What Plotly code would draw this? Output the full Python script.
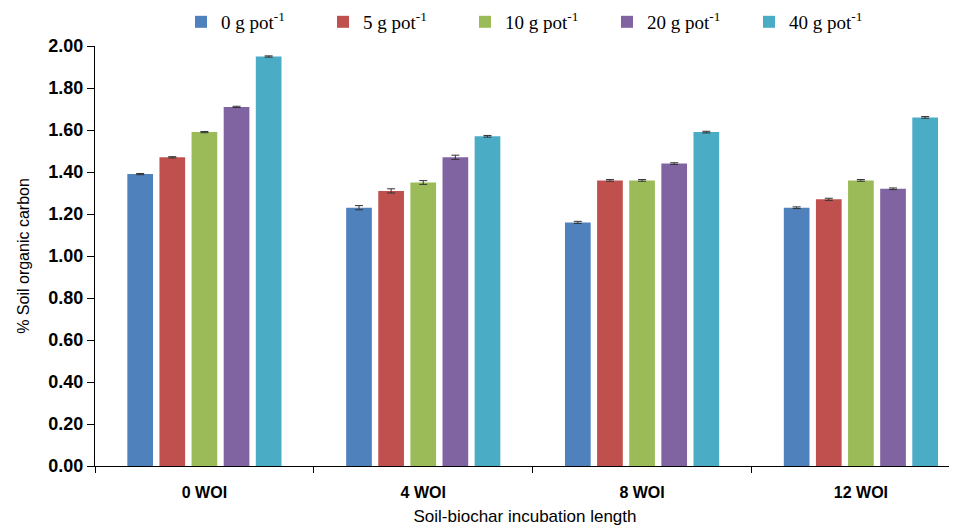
import plotly.graph_objects as go

categories = ["0 WOI", "4 WOI", "8 WOI", "12 WOI"]
series_names = ["0 g pot<sup>-1</sup>", "5 g pot<sup>-1</sup>", "10 g pot<sup>-1</sup>",
                "20 g pot<sup>-1</sup>", "40 g pot<sup>-1</sup>"]
soc_0g = [1.39, 1.23, 1.16, 1.23]
soc_5g = [1.47, 1.31, 1.36, 1.27]
soc_10g = [1.59, 1.35, 1.36, 1.36]
soc_20g = [1.71, 1.47, 1.44, 1.32]
soc_40g = [1.95, 1.57, 1.59, 1.66]
err_0g = [0.003, 0.010, 0.005, 0.004]
err_5g = [0.003, 0.010, 0.004, 0.005]
err_10g = [0.003, 0.009, 0.004, 0.004]
err_20g = [0.003, 0.010, 0.004, 0.004]
err_40g = [0.003, 0.004, 0.004, 0.004]
y_ticks = [0.0, 0.2, 0.4, 0.6, 0.8, 1.0, 1.2, 1.4, 1.6, 1.8, 2.0]

colors = ["#4F81BD", "#C0504D", "#9BBB59", "#8064A2", "#4BACC6"]
values = [soc_0g, soc_5g, soc_10g, soc_20g, soc_40g]
errors = [err_0g, err_5g, err_10g, err_20g, err_40g]

fig = go.Figure()
for name, v, e, c in zip(series_names, values, errors, colors):
    fig.add_trace(go.Bar(
        x=categories, y=v, name=name, marker=dict(color=c, line=dict(width=0)),
        error_y=dict(type="data", array=e, visible=True, color="#333333", thickness=1, width=4),
    ))

fig.update_layout(
    width=957, height=528,
    barmode="group", bargap=0.266, bargroupgap=0.2,
    paper_bgcolor="white", plot_bgcolor="white",
    margin=dict(l=87, r=10, t=38, b=70, autoexpand=False),
    showlegend=True,
    legend=dict(orientation="h", x=0.1, xanchor="left", y=1.012, yanchor="bottom",
                font=dict(family="Liberation Serif, Times New Roman, serif", size=19, color="black"),
                entrywidth=97, entrywidthmode="pixels", itemwidth=30,
                bgcolor="rgba(0,0,0,0)"),
    xaxis=dict(
        range=[-0.5, 3.43], showline=True, linecolor="black", linewidth=1,
        ticks="outside", tickson="boundaries", ticklen=6, tickcolor="black",
        tickvals=categories, ticktext=[f"<b>{c}</b>" for c in categories],
        ticklabelstandoff=12,
        tickfont=dict(family="Liberation Sans, Arial", size=16, color="black"),
        title=dict(text="Soil-biochar incubation length", standoff=9,
                   font=dict(family="Liberation Sans, Arial", size=17, color="black")),
        showgrid=False, zeroline=False, automargin=False,
    ),
    yaxis=dict(
        range=[0, 2.0], showline=True, linecolor="black", linewidth=1,
        tickvals=y_ticks, ticktext=[f"<b>{t:.2f}</b>" for t in y_ticks],
        ticks="outside", ticklen=7, tickcolor="black",
        tickfont=dict(family="Liberation Sans, Arial", size=18, color="black"),
        title=dict(text="% Soil organic carbon", standoff=14,
                   font=dict(family="Liberation Sans, Arial", size=16, color="black")),
        showgrid=False, zeroline=False, automargin=False,
    ),
)

fig.write_html("out.html")
